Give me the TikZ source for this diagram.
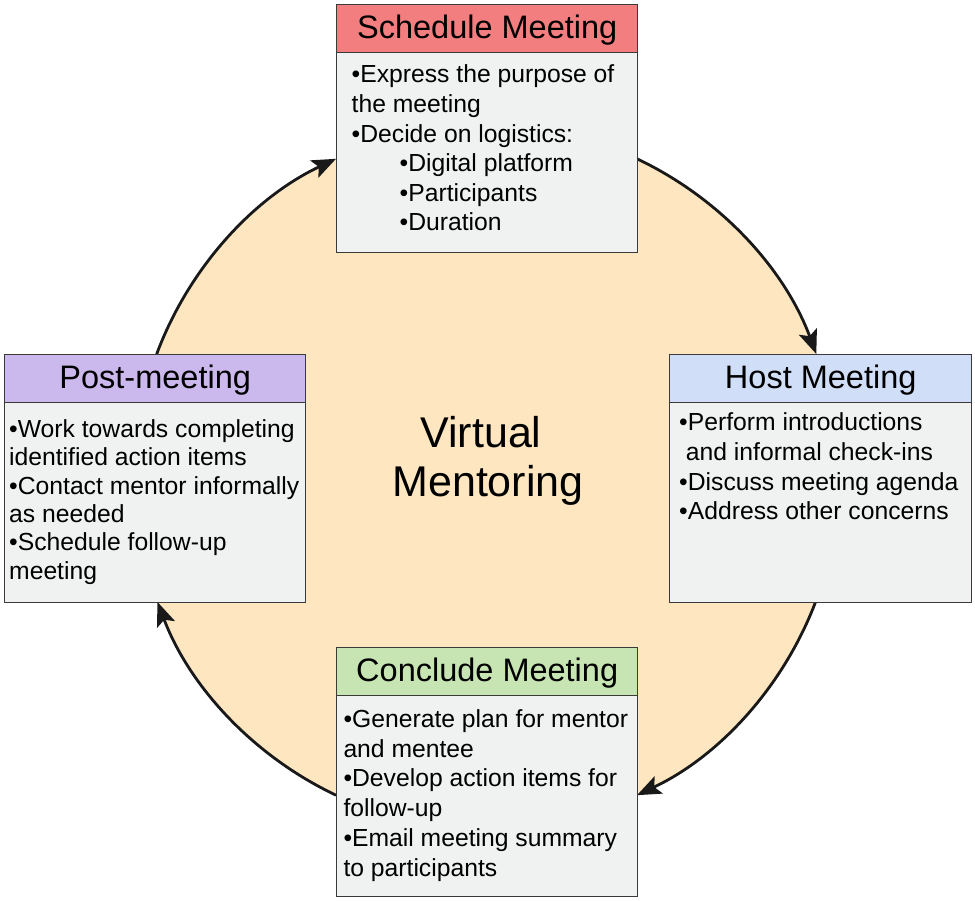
\documentclass[tikz,border=0pt]{standalone}
\usepackage{fontspec}
\setmainfont{Liberation Sans}
\usetikzlibrary{arrows.meta}
\definecolor{circfill}{HTML}{FDE6C0}
\definecolor{bodyfill}{HTML}{F0F1F1}
\definecolor{boxline}{HTML}{3A3A3A}
\definecolor{schedcol}{HTML}{F37E80}
\definecolor{postcol}{HTML}{CBB8EC}
\definecolor{hostcol}{HTML}{D1DEF8}
\definecolor{conccol}{HTML}{C6E5B3}
\begin{document}
\begin{tikzpicture}[x=1pt,y=1pt,
  hdr/.style={draw=boxline, line width=1.4pt, minimum width=301pt, minimum height=48pt,
    inner sep=0pt, anchor=north west, text height=24pt, text depth=4pt,
    font=\fontsize{32.5}{38}\selectfont},
  bodybox/.style={draw=boxline, line width=1.4pt, fill=bodyfill, minimum width=301pt,
    minimum height=200pt, inner sep=0pt, anchor=north west},
  bodytext/.style={anchor=base west, inner sep=0pt},
  bigtext/.style={anchor=base, inner sep=0pt, font=\fontsize{43}{49}\selectfont},
  arr/.style={line width=2.8pt, draw=black!90, -{Stealth[length=24pt,width=19pt,inset=5pt]}}]
\useasboundingbox (0,0) rectangle (975,900);
\fill[white] (0,0) rectangle (975,900);
% circle
\coordinate (c) at (486.5,423);
\fill[circfill] (c) circle[radius=352];
% arc start points
\coordinate (a1) at ([shift={(159.55:352)}]c);
\coordinate (a2) at ([shift={(64.69:352)}]c);
\coordinate (a3) at ([shift={(-20.8:352)}]c);
\coordinate (a4) at ([shift={(-115.31:352)}]c);
\draw[arr] (a1) arc[start angle=159.55, end angle=115.31, radius=352];
\draw[arr] (a2) arc[start angle=64.69, end angle=20.45, radius=352];
\draw[arr] (a3) arc[start angle=-20.8, end angle=-64.69, radius=352];
\draw[arr] (a4) arc[start angle=-115.31, end angle=-159.2, radius=352];
% center text
\node[bigtext] (vm1) at (481,452.3) {Virtual};
\node[bigtext] (vm2) at (488,403) {Mentoring};
% Schedule Meeting
\node[bodybox] (sb) at (336,848) {};
\node[hdr, fill=schedcol] (sh) at (336,896) {Schedule Meeting};
\node[bodytext] (st) at (351.5,817) {\parbox[t]{285pt}{\fontsize{24.7}{29.6}\selectfont\raggedright
  •Express the purpose of\\
  the meeting\\
  •Decide on logistics:\\
  \hspace*{48pt}•Digital platform\\
  \hspace*{48pt}•Participants\\
  \hspace*{48pt}•Duration}};
% Post-meeting
\node[bodybox] (pb) at (4,498) {};
\node[hdr, fill=postcol] (ph) at (4,546) {Post-meeting};
\node[bodytext] (pt) at (9,462.3) {\parbox[t]{295pt}{\fontsize{24.7}{28.3}\selectfont\raggedright
  •Work towards completing\\
  identified action items\\
  •Contact mentor informally\\
  as needed\\
  •Schedule follow-up\\
  meeting}};
% Host Meeting
\node[bodybox, minimum width=302pt] (hb) at (669,498) {};
\node[hdr, fill=hostcol, minimum width=302pt] (hh) at (669,546) {Host Meeting};
\node[bodytext] (ht) at (679,469.3) {\parbox[t]{290pt}{\fontsize{24.7}{29.7}\selectfont\raggedright
  •Perform introductions\\
  \hspace*{6.7pt}and informal check-ins\\
  •Discuss meeting agenda\\
  •Address other concerns}};
% Conclude Meeting
\node[bodybox, minimum height=201pt] (cb) at (336,205) {};
\node[hdr, fill=conccol] (ch) at (336,253) {Conclude Meeting};
\node[bodytext] (ct) at (343.3,172.7) {\parbox[t]{290pt}{\fontsize{24.7}{29.8}\selectfont\raggedright
  •Generate plan for mentor\\
  and mentee\\
  •Develop action items for\\
  follow-up\\
  •Email meeting summary\\
  to participants}};
\end{tikzpicture}
\end{document}
